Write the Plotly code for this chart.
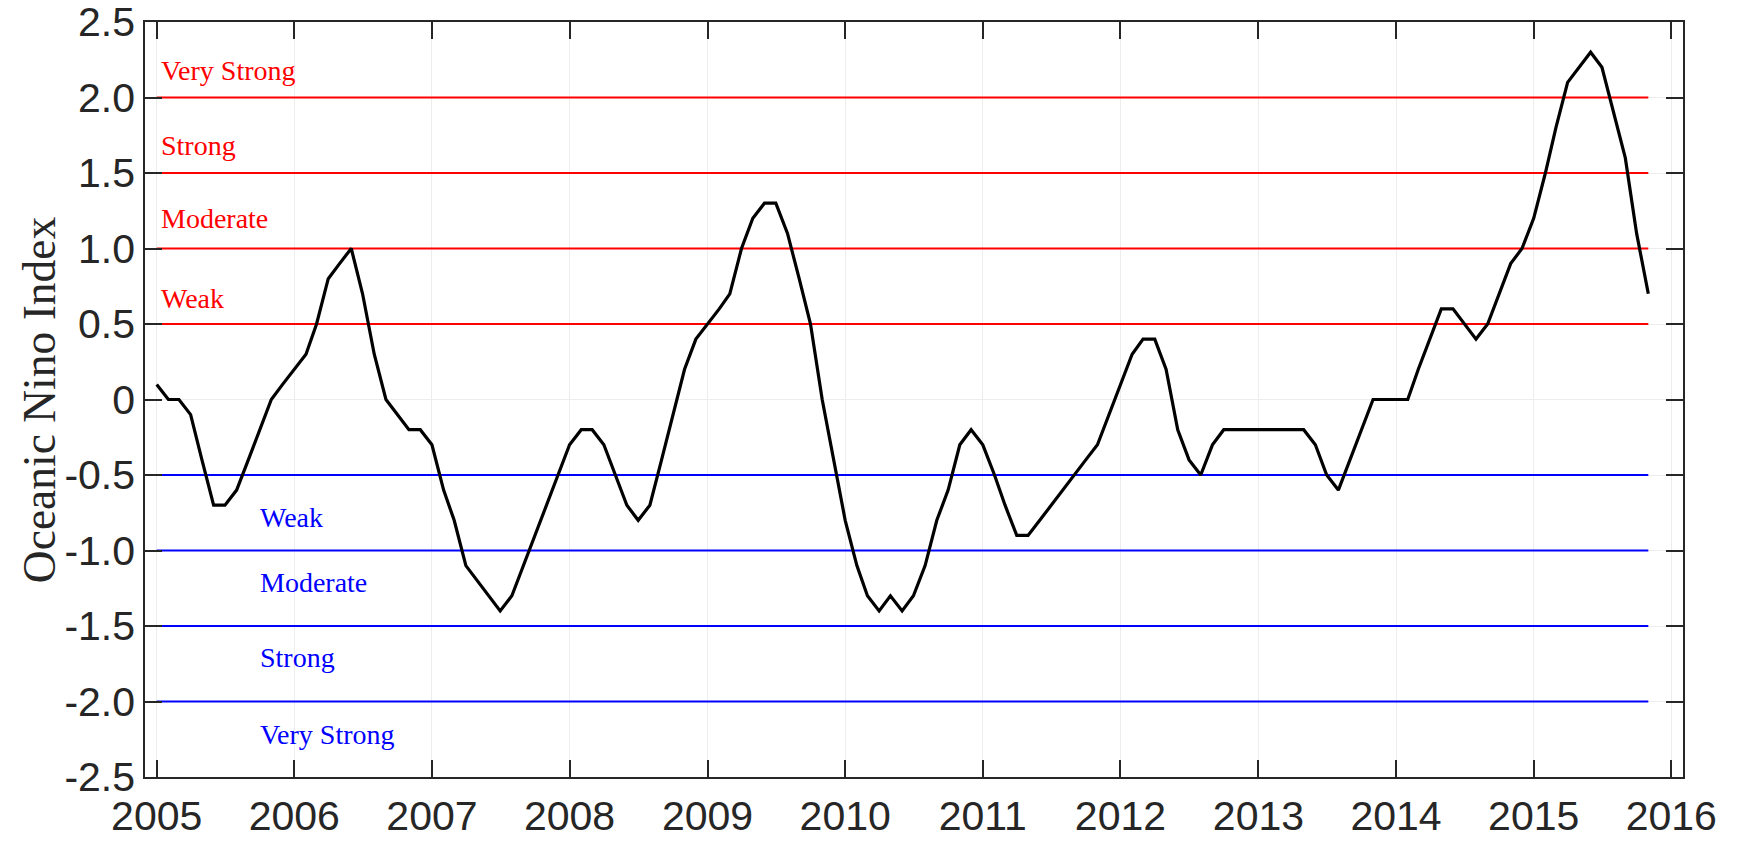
import pandas as pd
import plotly.graph_objects as go

# Monthly Oceanic Nino Index values, Jan 2005 .. Nov 2015
oni_2005 = [0.1, 0.0, 0.0, -0.1, -0.4, -0.7, -0.7, -0.6, -0.4, -0.2, 0.0, 0.1]
oni_2006 = [0.2, 0.3, 0.5, 0.8, 0.9, 1.0, 0.7, 0.3, 0.0, -0.1, -0.2, -0.2]
oni_2007 = [-0.3, -0.6, -0.8, -1.1, -1.2, -1.3, -1.4, -1.3, -1.1, -0.9, -0.7, -0.5]
oni_2008 = [-0.3, -0.2, -0.2, -0.3, -0.5, -0.7, -0.8, -0.7, -0.4, -0.1, 0.2, 0.4]
oni_2009 = [0.5, 0.6, 0.7, 1.0, 1.2, 1.3, 1.3, 1.1, 0.8, 0.5, 0.0, -0.4]
oni_2010 = [-0.8, -1.1, -1.3, -1.4, -1.3, -1.4, -1.3, -1.1, -0.8, -0.6, -0.3, -0.2]
oni_2011 = [-0.3, -0.5, -0.7, -0.9, -0.9, -0.8, -0.7, -0.6, -0.5, -0.4, -0.3, -0.1]
oni_2012 = [0.1, 0.3, 0.4, 0.4, 0.2, -0.2, -0.4, -0.5, -0.3, -0.2, -0.2, -0.2]
oni_2013 = [-0.2, -0.2, -0.2, -0.2, -0.2, -0.3, -0.5, -0.6, -0.4, -0.2, 0.0, 0.0]
oni_2014 = [0.0, 0.0, 0.2, 0.4, 0.6, 0.6, 0.5, 0.4, 0.5, 0.7, 0.9, 1.0]
oni_2015 = [1.2, 1.5, 1.8, 2.1, 2.2, 2.3, 2.2, 1.9, 1.6, 1.1, 0.7]

oni = (oni_2005 + oni_2006 + oni_2007 + oni_2008 + oni_2009 + oni_2010
       + oni_2011 + oni_2012 + oni_2013 + oni_2014 + oni_2015)
months = pd.date_range("2005-01-01", periods=len(oni), freq="MS")

# Threshold levels and their labels
elnino_levels = [0.5, 1.0, 1.5, 2.0]
elnino_labels = ["Weak", "Moderate", "Strong", "Very Strong"]
lanina_levels = [-0.5, -1.0, -1.5, -2.0]
lanina_labels = ["Weak", "Moderate", "Strong", "Very Strong"]

y_ticks = [2.5, 2.0, 1.5, 1.0, 0.5, 0, -0.5, -1.0, -1.5, -2.0, -2.5]
y_ticktext = ["2.5", "2.0", "1.5", "1.0", "0.5", "0", "-0.5", "-1.0", "-1.5", "-2.0", "-2.5"]
years = list(range(2005, 2017))

RED = "#ff0000"
BLUE = "#0000ff"
AXC = "#262626"

fig = go.Figure()
line_x = [months[0], months[-1]]
for lvl in elnino_levels:
    fig.add_trace(go.Scatter(x=line_x, y=[lvl, lvl], mode="lines",
                             line=dict(color=RED, width=2), showlegend=False,
                             hoverinfo="skip"))
for lvl in lanina_levels:
    fig.add_trace(go.Scatter(x=line_x, y=[lvl, lvl], mode="lines",
                             line=dict(color=BLUE, width=2), showlegend=False,
                             hoverinfo="skip"))
fig.add_trace(go.Scatter(x=months, y=oni, mode="lines",
                         line=dict(color="black", width=3.2), showlegend=False))

# Category labels (placed between the lines)
red_label_y = [0.67, 1.2, 1.68, 2.18]
blue_label_y = [-0.78, -1.21, -1.71, -2.22]
serif = "Liberation Serif, Times New Roman, serif"
for txt, yy in zip(elnino_labels, red_label_y):
    fig.add_annotation(x="2005-01-07", y=yy, xref="x", yref="y", text=txt,
                       showarrow=False, xanchor="left", yanchor="middle",
                       font=dict(family=serif, size=28, color=RED))
for txt, yy in zip(lanina_labels, blue_label_y):
    fig.add_annotation(x="2005-09-27", y=yy, xref="x", yref="y", text=txt,
                       showarrow=False, xanchor="left", yanchor="middle",
                       font=dict(family=serif, size=28, color=BLUE))

# Y-axis title
fig.add_annotation(x=-0.0685, y=0.5, xref="paper", yref="paper",
                   text="Oceanic Nino Index", textangle=-90, showarrow=False,
                   xanchor="center", yanchor="middle",
                   font=dict(family=serif, size=45.5, color=AXC))

tickfont = dict(family="Liberation Sans, Arial, sans-serif", size=41, color=AXC)
fig.update_layout(
    width=1739, height=842,
    margin=dict(l=145, r=56, t=22, b=65),
    paper_bgcolor="white", plot_bgcolor="white",
    xaxis=dict(type="date", range=["2004-12-01", "2016-02-01"],
               tickvals=[f"{y}-01-01" for y in years],
               ticktext=[str(y) for y in years],
               ticks="inside", ticklen=17, tickwidth=1.5, tickcolor=AXC,
               showline=True, linecolor=AXC, linewidth=1.5, mirror="ticks",
               showgrid=True, gridcolor="#ededed", gridwidth=1,
               tickfont=tickfont, zeroline=False, automargin=False,
               ticklabelstandoff=2, ticklabeloverflow="allow"),
    yaxis=dict(range=[-2.5, 2.5], tickvals=y_ticks, ticktext=y_ticktext,
               ticks="inside", ticklen=17, tickwidth=1.5, tickcolor=AXC,
               showline=True, linecolor=AXC, linewidth=1.5, mirror="ticks",
               showgrid=True, gridcolor="#ededed", gridwidth=1,
               tickfont=tickfont, zeroline=False, automargin=False,
               ticklabeloverflow="allow"),
)

# remove the default page margin so the figure fills the window exactly
fig.write_html("out.html", config={"displayModeBar": False},
               post_script="document.body.style.margin='0';")
